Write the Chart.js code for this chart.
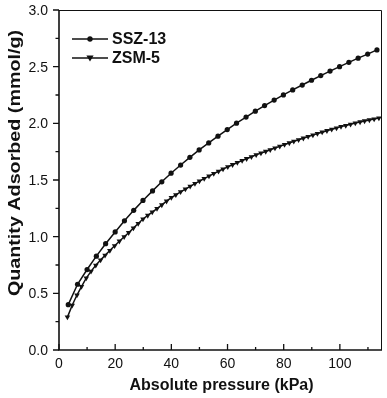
<!DOCTYPE html>
<html>
<head>
<meta charset="utf-8">
<script src="https://cdn.jsdelivr.net/npm/chart.js@4.4.1/dist/chart.umd.min.js"></script>
<style>
  html, body { margin: 0; padding: 0; background: #fff; }
  #wrap { width: 387px; height: 398px; }
</style>
</head>
<body>
<div id="wrap"><canvas id="chart" width="387" height="398"></canvas></div>
<script>
// isotherm readings (kPa, mmol/g)
const sszPressure = [3.3, 6.6, 10.0, 13.3, 16.6, 20.0, 23.3, 26.6, 29.9, 33.3, 36.6, 39.9,
    43.3, 46.6, 49.9, 53.3, 56.6, 59.9, 63.2, 66.6, 69.9, 73.2, 76.6, 79.9, 83.2, 86.6,
    89.9, 93.2, 96.5, 99.9, 103.2, 106.5, 109.9, 113.2];
const sszUptake = [0.40, 0.58, 0.71, 0.828, 0.938, 1.042, 1.14, 1.232, 1.32, 1.404, 1.484, 1.56,
    1.632, 1.70, 1.765, 1.827, 1.887, 1.945, 2.001, 2.055, 2.107, 2.157, 2.205, 2.251, 2.295, 2.338,
    2.38, 2.421, 2.461, 2.50, 2.538, 2.575, 2.611, 2.648];

const zsmPressure = [3.0, 4.7, 6.4, 8.0, 9.7, 11.4, 13.1, 14.8, 16.4, 18.1, 19.8, 21.5, 23.2, 24.8,
    26.5, 28.2, 29.9, 31.6, 33.2, 34.9, 36.6, 38.3, 40.0, 41.6, 43.3, 45.0, 46.7, 48.4, 50.0, 51.7,
    53.4, 55.1, 56.8, 58.4, 60.1, 61.8, 63.5, 65.2, 66.8, 68.5, 70.2, 71.9, 73.6, 75.2, 76.9, 78.6,
    80.3, 82.0, 83.6, 85.3, 87.0, 88.7, 90.4, 92.0, 93.7, 95.4, 97.1, 98.8, 100.4, 102.1, 103.8,
    105.5, 107.2, 108.8, 110.5, 112.2, 113.9];
const zsmUptake = [0.29, 0.395, 0.485, 0.56, 0.635, 0.694, 0.748, 0.794, 0.835, 0.878, 0.92, 0.96,
    0.999, 1.035, 1.075, 1.116, 1.156, 1.187, 1.217, 1.248, 1.28, 1.313, 1.345, 1.369, 1.395, 1.42,
    1.444, 1.468, 1.49, 1.512, 1.534, 1.556, 1.577, 1.596, 1.616, 1.635, 1.654, 1.672, 1.688, 1.705,
    1.722, 1.737, 1.752, 1.767, 1.782, 1.797, 1.813, 1.827, 1.841, 1.855, 1.869, 1.883, 1.896, 1.909,
    1.922, 1.935, 1.947, 1.959, 1.971, 1.981, 1.992, 2.003, 2.012, 2.021, 2.030, 2.038, 2.047];

const seriesNames = ['SSZ-13', 'ZSM-5'];
const xTicks = [0, 20, 40, 60, 80, 100];
const xMinorTicks = [10, 30, 50, 70, 90, 110];
const yTicks = [0, 0.5, 1.0, 1.5, 2.0, 2.5, 3.0];
const yTickLabels = ['0.0', '0.5', '1.0', '1.5', '2.0', '2.5', '3.0'];
const yMinorTicks = [0.25, 0.75, 1.25, 1.75, 2.25, 2.75];
const xTitle = 'Absolute pressure (kPa)';
const yTitle = 'Quantity Adsorbed (mmol/g)';

const INK = '#111';
const tickFont = '14px "Liberation Sans", Arial, sans-serif';
const titleFont = 'bold 16px "Liberation Sans", Arial, sans-serif';
const yTitleFont = 'bold 17px "Liberation Sans", Arial, sans-serif';

function toPoints(xs, ys) {
    return xs.map((x, i) => ({ x: x, y: ys[i] }));
}

function drawMarker(ctx, style, x, y) {
    ctx.beginPath();
    if (style === 'circle') {
        ctx.arc(x, y, 2.7, 0, Math.PI * 2);
    } else {
        // downward triangle
        ctx.moveTo(x - 3.6, y - 2.4);
        ctx.lineTo(x + 3.6, y - 2.4);
        ctx.lineTo(x, y + 3.6);
        ctx.closePath();
    }
    ctx.fill();
}

// axes, box, ticks, labels and the in-plot legend
const framePlugin = {
    id: 'frame',
    afterDraw(chart) {
        const ctx = chart.ctx;
        const area = chart.chartArea;
        const xs = chart.scales.x;
        const ys = chart.scales.y;
        ctx.save();
        ctx.strokeStyle = INK;
        ctx.fillStyle = INK;

        // top / right box
        ctx.lineWidth = 1;
        ctx.beginPath();
        ctx.moveTo(area.left, area.top + 0.5);
        ctx.lineTo(area.right - 0.5, area.top + 0.5);
        ctx.lineTo(area.right - 0.5, area.bottom);
        ctx.stroke();

        // left / bottom axes
        ctx.lineWidth = 1.6;
        ctx.beginPath();
        ctx.moveTo(area.left, area.top);
        ctx.lineTo(area.left, area.bottom);
        ctx.lineTo(area.right, area.bottom);
        ctx.stroke();

        // y ticks point outward
        ctx.lineWidth = 1.3;
        ctx.beginPath();
        yTicks.forEach(v => {
            const py = ys.getPixelForValue(v);
            ctx.moveTo(area.left - 6, py);
            ctx.lineTo(area.left, py);
        });
        yMinorTicks.forEach(v => {
            const py = ys.getPixelForValue(v);
            ctx.moveTo(area.left - 3.5, py);
            ctx.lineTo(area.left, py);
        });
        // x ticks point inward
        xTicks.forEach(v => {
            const px = xs.getPixelForValue(v);
            ctx.moveTo(px, area.bottom);
            ctx.lineTo(px, area.bottom - 6);
        });
        xMinorTicks.forEach(v => {
            const px = xs.getPixelForValue(v);
            ctx.moveTo(px, area.bottom);
            ctx.lineTo(px, area.bottom - 3);
        });
        ctx.stroke();

        // tick labels
        ctx.font = tickFont;
        ctx.textAlign = 'right';
        ctx.textBaseline = 'middle';
        yTicks.forEach((v, i) => {
            ctx.fillText(yTickLabels[i], area.left - 11, ys.getPixelForValue(v) + 1);
        });
        ctx.textAlign = 'center';
        ctx.textBaseline = 'top';
        xTicks.forEach(v => {
            ctx.fillText(String(v), xs.getPixelForValue(v), area.bottom + 7);
        });

        // axis titles
        ctx.font = titleFont;
        ctx.textBaseline = 'alphabetic';
        ctx.fillText(xTitle, (area.left + area.right) / 2 + 1, area.bottom + 40);
        ctx.save();
        ctx.font = yTitleFont;
        ctx.translate(20, 163);
        ctx.rotate(-Math.PI / 2);
        ctx.scale(1.16, 1); // the source figure is stretched vertically
        ctx.fillText(yTitle, 0, 0);
        ctx.restore();

        // legend
        const styles = ['circle', 'triangle'];
        ctx.font = titleFont;
        ctx.textAlign = 'left';
        ctx.textBaseline = 'middle';
        seriesNames.forEach((name, i) => {
            const ly = 39 + i * 19;
            ctx.lineWidth = 1.5;
            ctx.beginPath();
            ctx.moveTo(72, ly);
            ctx.lineTo(108, ly);
            ctx.stroke();
            drawMarker(ctx, styles[i], 90, ly);
            ctx.fillText(name, 112, ly + 1);
        });
        ctx.restore();
    }
};

new Chart(document.getElementById('chart'), {
    type: 'scatter',
    data: {
        datasets: [
            {
                label: seriesNames[0],
                data: toPoints(sszPressure, sszUptake),
                showLine: true,
                borderColor: INK,
                backgroundColor: INK,
                borderWidth: 1.5,
                pointStyle: 'circle',
                pointRadius: 2.6,
                pointBorderWidth: 0,
                tension: 0
            },
            {
                label: seriesNames[1],
                data: toPoints(zsmPressure, zsmUptake),
                showLine: true,
                borderColor: INK,
                backgroundColor: INK,
                borderWidth: 1.5,
                pointStyle: 'triangle',
                rotation: 180,
                pointRadius: 3.2,
                pointBorderWidth: 0,
                tension: 0
            }
        ]
    },
    options: {
        responsive: false,
        animation: false,
        layout: { padding: { left: 59, right: 5, top: 10, bottom: 48 } },
        plugins: {
            legend: { display: false },
            tooltip: { enabled: false }
        },
        scales: {
            x: { type: 'linear', min: 0, max: 115, display: false },
            y: { type: 'linear', min: 0, max: 3, display: false }
        }
    },
    plugins: [framePlugin]
});
</script>
</body>
</html>
